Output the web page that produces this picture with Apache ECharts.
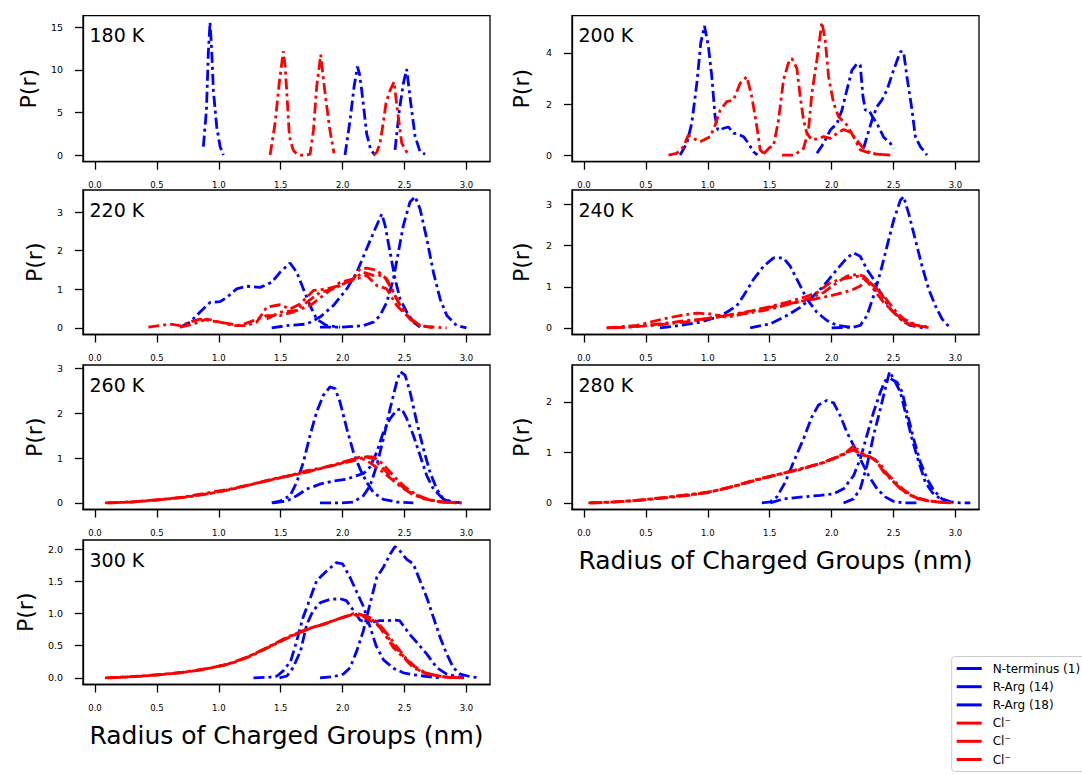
<!DOCTYPE html>
<html><head><meta charset="utf-8">
<script src="https://cdn.jsdelivr.net/npm/echarts@6/dist/echarts.min.js"></script>
<style>html,body{margin:0;padding:0;background:#fff}#c{width:1082px;height:775px}</style>
</head><body><div id="c"></div>
<script>
// ---------------- DATA (x = radius nm, y = P(r)) ----------------
const temps = ['180 K', '200 K', '220 K', '240 K', '260 K', '280 K', '300 K'];
const seriesNames = ['N-terminus (1)', 'R-Arg (14)', 'R-Arg (18)', 'Cl⁻', 'Cl⁻\u200b', 'Cl⁻\u200b\u200b'];
const xTicks = [0, 0.5, 1, 1.5, 2, 2.5, 3];
const yTicks180 = [0, 5, 10, 15];
const yTicks200 = [0, 2, 4];
const yTicks220 = [0, 1, 2, 3];
const yTicks240 = [0, 1, 2, 3];
const yTicks260 = [0, 1, 2, 3];
const yTicks280 = [0, 1, 2];
const yTicks300 = [0, 0.5, 1, 1.5, 2];
const xTitle = 'Radius of Charged Groups (nm)';
const yTitle = 'P(r)';

// 180 K
const t180_nterm = [[0.875,1.0],[0.90,5.3],[0.915,12.0],[0.929,15.6],[0.942,12.4],[0.956,7.6],[0.983,3.3],[1.01,1.0],[1.037,0]];
const t180_arg14 = [[2.019,0],[2.06,4.1],[2.092,8.0],[2.119,10.4],[2.135,9.6],[2.154,7.6],[2.194,2.5],[2.227,0.6],[2.262,0]];
const t180_arg18 = [[2.423,0.6],[2.458,5.3],[2.49,8.4],[2.517,10.1],[2.55,6.1],[2.585,2.2],[2.625,0.4],[2.666,0.1]];
const t180_cl1 = [[1.414,0],[1.454,3.7],[1.489,8.6],[1.521,12.2],[1.535,10.5],[1.548,7.6],[1.57,2.2],[1.60,0.6],[1.63,0.1],[1.656,0],[1.70,0],[1.737,0.1],[1.764,2.9],[1.79,8.0],[1.823,11.8],[1.84,9.5],[1.858,7.3],[1.893,3.3],[1.93,0.2]];
const t180_cl2 = [[2.249,0],[2.275,0.3],[2.302,1.4],[2.33,4.0],[2.35,6.1],[2.383,7.6],[2.415,8.6],[2.442,5.3],[2.477,1.4],[2.523,0.2]];
const t180_cl3 = [];

// 200 K
const t200_nterm = [[0.776,0],[0.83,0.46],[0.87,1.24],[0.911,2.8],[0.943,4.4],[0.973,5.06],[1.005,4.25],[1.032,3.07],[1.059,1.5],[1.08,1.0],[1.10,0.95],[1.126,1.05],[1.167,1.1],[1.207,0.85],[1.234,0.85],[1.288,0.72],[1.328,0.46],[1.369,0.13],[1.40,0]];
const t200_arg14 = [[1.881,0.07],[1.935,0.46],[1.989,0.98],[2.043,1.24],[2.083,1.76],[2.123,2.55],[2.164,3.33],[2.204,3.57],[2.231,3.53],[2.253,2.29],[2.272,1.76],[2.30,1.76],[2.33,1.5],[2.37,1.2],[2.42,0.7],[2.474,0.46],[2.50,0.26]];
const t200_arg18 = [[2.258,0.26],[2.285,0.72],[2.326,1.37],[2.366,1.9],[2.406,2.16],[2.447,2.55],[2.50,3.33],[2.555,4.05],[2.581,4.05],[2.608,3.07],[2.649,1.76],[2.676,0.72],[2.716,0.33],[2.77,0]];
const t200_cl1 = [[0.682,0],[0.749,0.07],[0.803,0.33],[0.843,0.78],[0.884,0.65],[0.938,0.52],[1.019,0.72],[1.059,1.18],[1.10,1.76],[1.153,2.09],[1.207,2.16],[1.261,2.81],[1.315,3.07],[1.355,2.29],[1.396,1.11],[1.423,0.2],[1.45,0.07]];
const t200_cl2 = [[1.45,0.05],[1.50,0.3],[1.53,0.35],[1.571,1.37],[1.611,2.94],[1.65,3.6],[1.679,3.79],[1.719,3.4],[1.746,2.29],[1.773,1.37],[1.80,0.85],[1.84,0.59],[1.894,0.65],[1.935,0.72],[1.989,0.65],[2.043,0.85],[2.096,1.0],[2.15,0.9],[2.20,0.6],[2.25,0.3],[2.30,0.12],[2.35,0.05],[2.40,0.02]];
const t200_cl3 = [[1.60,0],[1.70,0],[1.719,0.07],[1.773,0.26],[1.813,0.98],[1.84,2.42],[1.881,3.73],[1.921,5.2],[1.948,4.51],[1.975,3.07],[2.016,2.03],[2.056,1.5],[2.123,1.18],[2.177,0.72],[2.231,0.2],[2.312,0.07],[2.40,0.03],[2.474,0]];

// 220 K
const t220_nterm = [[0.687,0.02],[0.767,0.15],[0.848,0.41],[0.929,0.66],[1.01,0.68],[1.064,0.79],[1.144,1.01],[1.225,1.08],[1.333,1.05],[1.427,1.18],[1.494,1.44],[1.575,1.68],[1.629,1.44],[1.683,1.01],[1.737,0.58],[1.79,0.23],[1.871,0.06],[1.979,0.02]];
const t220_arg14 = [[1.427,0],[1.548,0.06],[1.71,0.1],[1.817,0.28],[1.925,0.58],[2.033,1.01],[2.114,1.44],[2.194,2.05],[2.262,2.56],[2.316,2.95],[2.343,2.65],[2.383,1.96],[2.423,1.27],[2.464,0.75],[2.518,0.41],[2.571,0.15],[2.625,0.02]];
const t220_arg18 = [[1.817,0.02],[1.98,0.02],[2.167,0.06],[2.248,0.15],[2.302,0.32],[2.356,0.66],[2.41,1.27],[2.45,1.96],[2.49,2.65],[2.544,3.26],[2.585,3.4],[2.625,3.08],[2.679,2.31],[2.733,1.44],[2.787,0.75],[2.841,0.32],[2.921,0.06],[3.0,0]];
const t220_cl1 = [[0.431,0.02],[0.525,0.06],[0.606,0.1],[0.687,0.06],[0.767,0.15],[0.848,0.23],[0.929,0.19],[1.01,0.15],[1.117,0.06],[1.225,0.06],[1.306,0.15],[1.387,0.54],[1.494,0.6],[1.575,0.49],[1.656,0.62],[1.764,0.97],[1.871,1.01],[1.979,1.1],[2.087,1.27],[2.14,1.53],[2.194,1.55],[2.275,1.49],[2.356,1.27],[2.41,0.92],[2.464,0.58],[2.544,0.23],[2.625,0.06],[2.733,0.02],[2.84,0]];
const t220_cl2 = [[0.687,0.02],[0.794,0.1],[0.902,0.23],[1.01,0.15],[1.171,0.06],[1.279,0.19],[1.387,0.32],[1.494,0.32],[1.602,0.41],[1.71,0.66],[1.817,0.92],[1.925,1.01],[2.033,1.18],[2.114,1.27],[2.194,1.36],[2.275,1.1],[2.356,1.01],[2.437,0.58],[2.518,0.32],[2.625,0.06],[2.733,0.02]];
const t220_cl3 = [[1.387,0.23],[1.494,0.41],[1.629,0.45],[1.737,0.58],[1.844,0.84],[1.979,1.18],[2.087,1.27],[2.167,1.44],[2.248,1.36],[2.33,1.36],[2.396,1.01],[2.464,0.58],[2.544,0.23],[2.625,0.06],[2.72,0.01]];

// 240 K
const t240_nterm = [[0.614,0],[0.776,0.06],[0.938,0.14],[1.046,0.24],[1.153,0.38],[1.234,0.54],[1.288,0.78],[1.369,1.18],[1.45,1.5],[1.531,1.7],[1.611,1.7],[1.665,1.5],[1.733,1.1],[1.8,0.7],[1.881,0.38],[1.962,0.18],[2.043,0.06],[2.15,0.02]];
const t240_arg14 = [[1.342,0],[1.504,0.1],[1.638,0.3],[1.746,0.5],[1.827,0.7],[1.935,1.02],[2.043,1.42],[2.123,1.7],[2.177,1.82],[2.231,1.74],[2.285,1.42],[2.339,1.18],[2.393,0.86],[2.474,0.46],[2.555,0.22],[2.635,0.06],[2.743,0]];
const t240_arg18 = [[2.0,0],[2.177,0.02],[2.231,0.06],[2.285,0.3],[2.339,0.78],[2.393,1.34],[2.447,1.98],[2.501,2.62],[2.555,3.1],[2.581,3.19],[2.622,2.78],[2.676,2.14],[2.73,1.5],[2.784,0.94],[2.837,0.54],[2.891,0.22],[2.945,0.04]];
const t240_cl1 = [[0.183,0],[0.345,0.02],[0.507,0.06],[0.668,0.12],[0.83,0.18],[0.992,0.22],[1.153,0.3],[1.315,0.38],[1.477,0.5],[1.638,0.62],[1.773,0.74],[1.881,0.86],[1.989,1.1],[2.069,1.18],[2.15,1.22],[2.218,1.26],[2.272,1.18],[2.339,0.94],[2.42,0.62],[2.501,0.38],[2.581,0.18],[2.689,0.06],[2.797,0.02]];
const t240_cl2 = [[0.183,0],[0.426,0.06],[0.641,0.22],[0.776,0.3],[0.911,0.36],[1.019,0.34],[1.153,0.26],[1.288,0.34],[1.45,0.42],[1.611,0.54],[1.773,0.66],[1.935,0.86],[2.043,1.1],[2.123,1.26],[2.204,1.3],[2.258,1.26],[2.312,1.1],[2.393,0.86],[2.474,0.46],[2.581,0.14],[2.689,0.02]];
const t240_cl3 = [[0.24,0],[0.56,0.06],[0.83,0.15],[1.1,0.28],[1.369,0.42],[1.638,0.58],[1.827,0.68],[1.989,0.78],[2.096,0.86],[2.177,0.94],[2.231,1.02],[2.285,1.18],[2.339,1.02],[2.42,0.78],[2.501,0.46],[2.581,0.22],[2.689,0.06],[2.797,0]];

// 260 K
const t260_nterm = [[1.427,0],[1.494,0.04],[1.575,0.16],[1.629,0.46],[1.683,0.91],[1.737,1.51],[1.79,2.03],[1.844,2.4],[1.898,2.59],[1.939,2.55],[1.979,2.25],[2.033,1.66],[2.087,1.13],[2.14,0.76],[2.194,0.46],[2.248,0.23],[2.329,0.08],[2.437,0.02],[2.571,0]];
const t260_arg14 = [[1.817,0],[1.979,0],[2.087,0.02],[2.167,0.16],[2.221,0.38],[2.275,0.83],[2.329,1.43],[2.383,2.1],[2.437,2.7],[2.464,2.93],[2.504,2.85],[2.544,2.48],[2.598,1.81],[2.652,1.21],[2.706,0.68],[2.76,0.31],[2.814,0.08],[2.894,0.01],[2.948,0]];
const t260_arg18 = [[1.44,0],[1.548,0.04],[1.629,0.16],[1.71,0.31],[1.817,0.42],[1.925,0.49],[2.033,0.53],[2.114,0.61],[2.17,0.66],[2.221,0.8],[2.275,1.13],[2.329,1.58],[2.383,1.88],[2.437,2.07],[2.477,2.1],[2.518,1.88],[2.571,1.51],[2.625,1.06],[2.679,0.61],[2.733,0.31],[2.814,0.08],[2.894,0.02],[2.96,0]];
const t260_cl1 = [[0.081,0],[0.283,0.02],[0.498,0.07],[0.687,0.12],[0.902,0.22],[1.09,0.31],[1.279,0.42],[1.44,0.53],[1.575,0.61],[1.71,0.72],[1.844,0.79],[1.979,0.89],[2.087,0.98],[2.167,1.04],[2.248,0.98],[2.329,0.76],[2.41,0.53],[2.491,0.34],[2.571,0.19],[2.679,0.08],[2.787,0.02],[2.96,0]];
const t260_cl2 = [[0.10,0],[0.30,0.02],[0.52,0.07],[0.72,0.13],[0.93,0.21],[1.12,0.32],[1.30,0.44],[1.46,0.55],[1.60,0.62],[1.73,0.70],[1.86,0.80],[1.99,0.88],[2.10,0.95],[2.19,1.04],[2.25,1.02],[2.30,0.93],[2.36,0.76],[2.43,0.55],[2.51,0.34],[2.60,0.18],[2.70,0.07],[2.82,0.02],[2.95,0]];
const t260_cl3 = [[0.12,0],[0.33,0.03],[0.55,0.08],[0.75,0.13],[0.96,0.23],[1.15,0.33],[1.33,0.46],[1.50,0.56],[1.64,0.65],[1.78,0.74],[1.92,0.83],[2.04,0.93],[2.12,1.0],[2.18,0.97],[2.24,0.86],[2.31,0.72],[2.39,0.54],[2.47,0.36],[2.56,0.2],[2.66,0.09],[2.78,0.03],[2.92,0]];

// 280 K
const t280_nterm = [[1.436,0],[1.504,0.02],[1.558,0.12],[1.625,0.41],[1.692,0.81],[1.773,1.27],[1.84,1.7],[1.894,1.94],[1.962,2.03],[2.016,1.98],[2.069,1.73],[2.123,1.4],[2.177,1.14],[2.231,0.87],[2.299,0.54],[2.366,0.28],[2.433,0.12],[2.501,0.03],[2.581,0],[2.716,0]];
const t280_arg14 = [[2.096,0],[2.177,0.08],[2.231,0.28],[2.285,0.74],[2.339,1.34],[2.393,1.86],[2.433,2.26],[2.468,2.6],[2.514,2.39],[2.555,2.19],[2.595,1.8],[2.649,1.27],[2.703,0.81],[2.757,0.41],[2.811,0.21],[2.878,0.08],[2.959,0.02],[3.04,0],[3.12,0]];
const t280_arg18 = [[1.504,0],[1.611,0.08],[1.773,0.12],[1.908,0.15],[2.016,0.18],[2.096,0.28],[2.177,0.54],[2.231,0.87],[2.285,1.34],[2.339,1.8],[2.393,2.19],[2.433,2.42],[2.474,2.46],[2.528,2.39],[2.568,2.2],[2.608,1.8],[2.662,1.27],[2.716,0.81],[2.77,0.48],[2.824,0.25],[2.891,0.08],[2.959,0.02]];
const t280_cl1 = [[0.035,0],[0.237,0.02],[0.426,0.05],[0.614,0.1],[0.803,0.15],[0.992,0.2],[1.18,0.31],[1.369,0.45],[1.558,0.56],[1.746,0.66],[1.908,0.78],[2.043,0.91],[2.123,1.01],[2.177,1.13],[2.204,1.01],[2.258,0.94],[2.312,0.91],[2.366,0.81],[2.42,0.61],[2.474,0.48],[2.555,0.28],[2.635,0.15],[2.743,0.05],[2.851,0.02],[2.986,0]];
const t280_cl2 = [[0.05,0],[0.25,0.02],[0.45,0.05],[0.64,0.1],[0.83,0.16],[1.02,0.22],[1.21,0.33],[1.40,0.46],[1.58,0.57],[1.76,0.68],[1.92,0.79],[2.06,0.92],[2.15,1.03],[2.21,1.07],[2.25,0.97],[2.30,0.92],[2.35,0.86],[2.40,0.7],[2.45,0.55],[2.52,0.37],[2.60,0.2],[2.70,0.08],[2.82,0.03],[2.95,0]];
const t280_cl3 = [[0.06,0],[0.27,0.02],[0.47,0.06],[0.66,0.1],[0.85,0.15],[1.04,0.23],[1.23,0.34],[1.42,0.47],[1.60,0.58],[1.78,0.7],[1.94,0.8],[2.08,0.94],[2.17,1.05],[2.22,1.0],[2.27,0.95],[2.33,0.88],[2.39,0.78],[2.44,0.6],[2.50,0.45],[2.58,0.26],[2.67,0.12],[2.78,0.04],[2.90,0.01],[3.0,0]];

// 300 K
const t300_nterm = [[1.28,0],[1.40,0.01],[1.47,0.03],[1.52,0.11],[1.58,0.26],[1.63,0.58],[1.68,0.94],[1.74,1.25],[1.79,1.51],[1.87,1.66],[1.95,1.79],[2.0,1.77],[2.06,1.56],[2.11,1.35],[2.17,1.1],[2.22,0.8],[2.27,0.5],[2.33,0.28],[2.41,0.15],[2.49,0.08],[2.57,0.05],[2.65,0.03],[2.73,0.01],[2.8,0]];
const t300_arg14 = [[1.49,0],[1.55,0.03],[1.60,0.16],[1.66,0.42],[1.71,0.83],[1.76,1.04],[1.82,1.17],[1.90,1.22],[1.98,1.23],[2.03,1.2],[2.09,1.04],[2.14,0.9],[2.20,0.85],[2.25,0.87],[2.30,0.89],[2.36,0.89],[2.42,0.9],[2.46,0.89],[2.54,0.68],[2.60,0.55],[2.68,0.37],[2.76,0.16],[2.84,0.06],[2.92,0.02],[2.98,0]];
const t300_arg18 = [[1.817,0],[1.925,0.02],[2.006,0.06],[2.06,0.16],[2.114,0.42],[2.167,0.73],[2.221,1.15],[2.275,1.56],[2.329,1.72],[2.383,1.92],[2.423,2.04],[2.464,1.97],[2.518,1.84],[2.571,1.77],[2.625,1.51],[2.679,1.25],[2.733,0.94],[2.787,0.63],[2.841,0.37],[2.894,0.16],[2.948,0.06],[3.029,0.02],[3.11,0]];
const t300_cl1 = [[0.081,0],[0.283,0.02],[0.498,0.05],[0.687,0.08],[0.875,0.13],[1.064,0.21],[1.225,0.32],[1.387,0.47],[1.548,0.63],[1.71,0.76],[1.844,0.83],[1.952,0.91],[2.033,0.96],[2.087,1.0],[2.14,0.99],[2.194,0.95],[2.248,0.89],[2.302,0.78],[2.356,0.63],[2.41,0.47],[2.491,0.32],[2.571,0.16],[2.679,0.06],[2.787,0.02],[2.921,0]];
const t300_cl2 = [[0.1,0],[0.3,0.02],[0.52,0.05],[0.71,0.09],[0.9,0.14],[1.09,0.22],[1.25,0.34],[1.41,0.49],[1.57,0.64],[1.73,0.77],[1.86,0.84],[1.97,0.92],[2.05,0.97],[2.12,0.98],[2.18,0.97],[2.24,0.92],[2.29,0.85],[2.34,0.72],[2.39,0.56],[2.46,0.4],[2.54,0.24],[2.63,0.1],[2.74,0.04],[2.86,0.01],[2.98,0]];
const t300_cl3 = [[0.12,0],[0.32,0.02],[0.54,0.05],[0.73,0.09],[0.92,0.15],[1.11,0.23],[1.27,0.35],[1.43,0.5],[1.59,0.65],[1.75,0.78],[1.88,0.86],[1.99,0.93],[2.07,0.98],[2.16,0.96],[2.21,0.9],[2.26,0.86],[2.31,0.8],[2.37,0.66],[2.43,0.5],[2.5,0.33],[2.58,0.18],[2.68,0.07],[2.8,0.02],[2.95,0]];

// ---------------- ASSEMBLY ----------------
const panelSeries = [
  [t180_nterm, t180_arg14, t180_arg18, t180_cl1, t180_cl2, t180_cl3],
  [t200_nterm, t200_arg14, t200_arg18, t200_cl1, t200_cl2, t200_cl3],
  [t220_nterm, t220_arg14, t220_arg18, t220_cl1, t220_cl2, t220_cl3],
  [t240_nterm, t240_arg14, t240_arg18, t240_cl1, t240_cl2, t240_cl3],
  [t260_nterm, t260_arg14, t260_arg18, t260_cl1, t260_cl2, t260_cl3],
  [t280_nterm, t280_arg14, t280_arg18, t280_cl1, t280_cl2, t280_cl3],
  [t300_nterm, t300_arg14, t300_arg18, t300_cl1, t300_cl2, t300_cl3]
];
const panelYTicks = [yTicks180, yTicks200, yTicks220, yTicks240, yTicks260, yTicks280, yTicks300];

const FONT = 'DejaVu Sans';
const colLeft = [83, 572], gridW = 407;
const rowTop = [15.7, 190, 365, 540], rowH = [146, 144.5, 144.5, 144.5];
const yNameGap = [44, 40, 38, 40, 38, 40, 47];
const colors = ['#0000ff', '#0000ff', '#0000ff', '#ff0000', '#ff0000', '#ff0000'];
const XMIN = -0.097, XMAX = 3.19;

const grids = [], xAxes = [], yAxes = [], titles = [], series = [];
panelSeries.forEach((sers, i) => {
  const row = Math.floor(i / 2), col = i % 2;
  grids.push({ left: colLeft[col], top: rowTop[row], width: gridW, height: rowH[row],
    show: true, borderColor: '#000', borderWidth: 1.3, backgroundColor: 'transparent', containLabel: false });
  let M = 0;
  sers.forEach(s => s.forEach(p => { if (p[1] > M) M = p[1]; }));
  const yt = panelYTicks[i];
  const dec = yt.some(v => v % 1 !== 0);
  const isBottom = (i === 5 || i === 6);
  xAxes.push({ type: 'value', gridIndex: i, min: XMIN, max: XMAX,
    name: isBottom ? xTitle : '', nameLocation: 'middle', nameGap: 38,
    nameTextStyle: { fontFamily: FONT, fontSize: 25, color: '#000' },
    axisLine: { show: true, onZero: false, lineStyle: { color: '#000', width: 1.3 } },
    axisTick: { show: true, customValues: xTicks, length: 8, lineStyle: { color: '#000', width: 1.3 } },
    axisLabel: { show: true, customValues: xTicks, formatter: v => Number(v).toFixed(1), fontFamily: FONT, fontSize: 8.5, color: '#000', margin: 18.5 },
    splitLine: { show: false } });
  yAxes.push({ type: 'value', gridIndex: i, min: -0.05 * M, max: 1.05 * M,
    name: yTitle, nameLocation: 'middle', nameGap: yNameGap[i],
    nameTextStyle: { fontFamily: FONT, fontSize: 22, color: '#000' },
    axisLine: { show: true, onZero: false, lineStyle: { color: '#000', width: 1.3 } },
    axisTick: { show: true, customValues: yt, length: 8, lineStyle: { color: '#000', width: 1.3 } },
    axisLabel: { show: true, customValues: yt, formatter: v => dec ? Number(v).toFixed(1) : String(Math.round(v)), fontFamily: FONT, fontSize: 9.5, color: '#000', margin: 20 },
    splitLine: { show: false } });
  titles.push({ text: temps[i], left: colLeft[col] + 6.5, top: rowTop[row] + 10, padding: 0,
    textStyle: { fontFamily: FONT, fontSize: 19, fontWeight: 'normal', color: '#000' } });
  sers.forEach((d, k) => {
    series.push({ type: 'line', name: seriesNames[k], xAxisIndex: i, yAxisIndex: i, data: d,
      symbol: 'none', showSymbol: false, smooth: false, animation: false, clip: true,
      lineStyle: { color: colors[k], width: 2.8, type: [11, 4, 3, 4], cap: 'butt' },
      itemStyle: { color: colors[k] }, emphasis: { disabled: true } });
  });
});

const chart = echarts.init(document.getElementById('c'), null, { renderer: 'svg' });
chart.setOption({
  animation: false,
  backgroundColor: '#fff',
  textStyle: { fontFamily: FONT },
  title: titles,
  grid: grids, xAxis: xAxes, yAxis: yAxes, series: series,
  legend: {
    data: seriesNames, orient: 'vertical', left: 951.7, top: 656.5,
    itemWidth: 25, itemHeight: 3, itemGap: 4.2, icon: 'rect', selectedMode: false,
    itemStyle: { borderWidth: 0 },
    textStyle: { fontFamily: FONT, fontSize: 12, color: '#000', lineHeight: 14, padding: [0, 0, 0, 6] },
    formatter: n => n.replace(/\u200b/g, ''),
    borderColor: '#cccccc', borderWidth: 1, borderRadius: 3, padding: 5, backgroundColor: '#fff'
  }
});
</script>
</body></html>
